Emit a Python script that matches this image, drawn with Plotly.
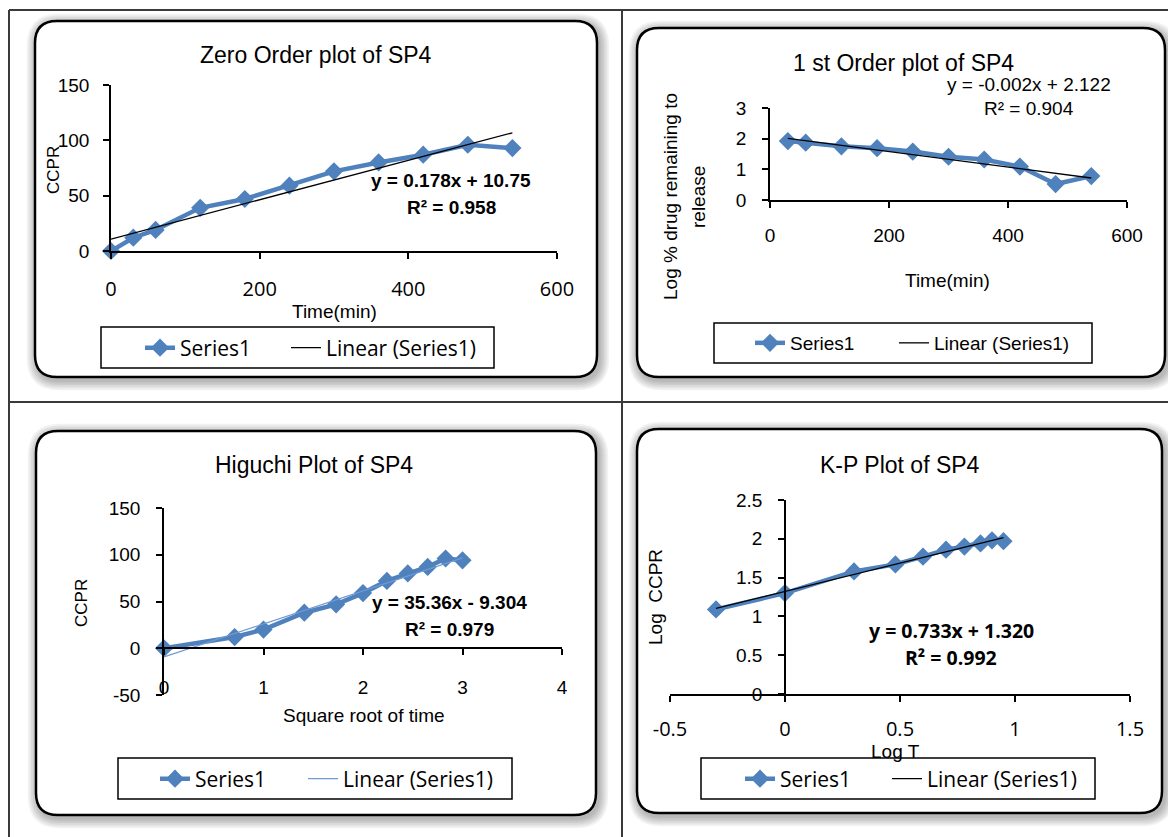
import numpy as np
import plotly.graph_objects as go

W, H = 1168, 837

# ---------------- data ----------------
time_min = [0, 30, 60, 120, 180, 240, 300, 360, 420, 480, 540]
ccpr = [0, 12, 19, 39, 47, 59, 72, 80, 87, 96, 93]

first_order_time = [30, 60, 120, 180, 240, 300, 360, 420, 480, 540]
log_remaining = [1.92, 1.87, 1.75, 1.69, 1.58, 1.41, 1.32, 1.09, 0.52, 0.78]

sqrt_time = [0, 0.71, 1.0, 1.41, 1.73, 2.0, 2.24, 2.45, 2.65, 2.83, 3.0]
higuchi_ccpr = [0, 12, 20, 38, 47, 59, 72, 80, 87, 96, 94]

log_t = [-0.30, 0.0, 0.30, 0.48, 0.60, 0.70, 0.78, 0.85, 0.90, 0.95]
log_ccpr = [1.09, 1.30, 1.58, 1.67, 1.77, 1.86, 1.90, 1.94, 1.98, 1.97]

titles = ["Zero Order plot of SP4", "1 st Order plot of SP4",
          "Higuchi Plot of SP4", "K-P Plot of SP4"]
equations = ["y = 0.178x + 10.75", "y = -0.002x + 2.122",
             "y = 35.36x - 9.304", "y = 0.733x + 1.320"]
r_squared = ["R² = 0.958", "R² = 0.904", "R² = 0.979", "R² = 0.992"]

zero_xticks = [0, 200, 400, 600]
zero_yticks = [0, 50, 100, 150]
first_xticks = [0, 200, 400, 600]
first_yticks = [0, 1, 2, 3]
hig_xticks = [0, 1, 2, 3, 4]
hig_yticks = [-50, 0, 50, 100, 150]
hig_yticktext = ["-50", "0", "50", "100", "150"]
kp_xticks = [-0.5, 0, 0.5, 1, 1.5]
kp_xticktext = ["-0.5", "0", "0.5", "1", "1.5"]
kp_yticks = [0, 0.5, 1, 1.5, 2, 2.5]
kp_yticktext = ["0", "0.5", "1", "1.5", "2", "2.5"]

# ---------------- styles ----------------
BLUE = "#4F81BD"
LIGHTBLUE = "#6F9AD3"
ARIAL = "Liberation Sans, Arial, sans-serif"
CALI = "Open Sans, Lato, sans-serif"


def X(v):
    return v / W


def Y(v):
    return 1 - v / H


def rrect(x0, y0, x1, y1, r):
    return (f"M {X(x0 + r)} {Y(y0)} L {X(x1 - r)} {Y(y0)} "
            f"Q {X(x1)} {Y(y0)} {X(x1)} {Y(y0 + r)} "
            f"L {X(x1)} {Y(y1 - r)} Q {X(x1)} {Y(y1)} {X(x1 - r)} {Y(y1)} "
            f"L {X(x0 + r)} {Y(y1)} Q {X(x0)} {Y(y1)} {X(x0)} {Y(y1 - r)} "
            f"L {X(x0)} {Y(y0 + r)} Q {X(x0)} {Y(y0)} {X(x0 + r)} {Y(y0)} Z")


fig = go.Figure()

series = [
    (time_min, ccpr, "x", "y", "black", "legend", "legend2"),
    (first_order_time, log_remaining, "x2", "y2", "black", "legend3", "legend4"),
    (sqrt_time, higuchi_ccpr, "x3", "y3", LIGHTBLUE, "legend5", "legend6"),
    (log_t, log_ccpr, "x4", "y4", "black", "legend7", "legend8"),
]

for xs, ys, xa, ya, tcol, lg1, lg2 in series:
    fig.add_trace(go.Scatter(
        x=xs, y=ys, mode="lines+markers", name="Series1",
        line=dict(color=BLUE, width=4.5),
        marker=dict(symbol="diamond", size=14, color=BLUE),
        xaxis=xa, yaxis=ya, legend=lg1, cliponaxis=False, hoverinfo="skip"))
    coef = np.polyfit(xs, ys, 1)
    ends = [min(xs), max(xs)]
    fig.add_trace(go.Scatter(
        x=ends, y=np.polyval(coef, ends), mode="lines", name="Linear (Series1)",
        line=dict(color=tcol, width=1.3),
        xaxis=xa, yaxis=ya, legend=lg2, cliponaxis=False, hoverinfo="skip"))

# ---------------- shapes ----------------
shapes = []
boxes = [(35, 21, 597, 377), (637, 28, 1165, 377),
         (36, 431, 596, 815), (637, 429, 1162, 813)]
for (x0, y0, x1, y1) in boxes:
    for k in range(6, 0, -1):
        e = k * 1.7
        shapes.append(dict(type="path", xref="paper", yref="paper", layer="below",
                           path=rrect(x0 - e + 2, y0 - e + 3, x1 + e + 2, y1 + e + 3, 22 + e),
                           fillcolor="rgba(0,0,0,0.05)", line=dict(width=0)))
    shapes.append(dict(type="path", xref="paper", yref="paper", layer="below",
                       path=rrect(x0, y0, x1, y1, 22), fillcolor="white",
                       line=dict(color="black", width=2.5)))

legend_boxes = [(101, 327, 494, 368), (714, 323, 1092, 363),
                (118, 758, 512, 799), (701, 758, 1095, 799)]
for (x0, y0, x1, y1) in legend_boxes:
    shapes.append(dict(type="rect", xref="paper", yref="paper", layer="below",
                       x0=X(x0), x1=X(x1), y0=Y(y0), y1=Y(y1),
                       fillcolor="white", line=dict(color="black", width=1.5)))

# table grid
for (x0, y0, x1, y1) in [(9, 10, 1168, 10), (9, 10, 9, 837), (622, 10, 622, 837), (9, 402, 1168, 402)]:
    shapes.append(dict(type="line", xref="paper", yref="paper", layer="below",
                       x0=X(x0), x1=X(x1), y0=Y(y0), y1=Y(y1),
                       line=dict(color="#3a3a3a", width=2)))

# ---------------- annotations ----------------
ann = []


def text(s, x, y, size=19, family=ARIAL, bold=False, angle=0):
    ann.append(dict(text=s, x=X(x), y=Y(y), xref="paper", yref="paper",
                    xanchor="center", yanchor="middle", showarrow=False,
                    textangle=angle,
                    font=dict(family=family, size=size, color="black",
                              weight="bold" if bold else "normal")))


text(titles[0], 316, 55, 23)
text(titles[1], 903, 63, 23)
text(titles[2], 314, 465, 23)
text(titles[3], 900, 465, 23)

text(equations[0], 451, 180, 19, bold=True)
text(r_squared[0], 451, 207, 19, bold=True)
text(equations[1], 1029, 84, 19)
text(r_squared[1], 1029, 109, 19)
text(equations[2], 449, 602, 19, bold=True)
text(r_squared[2], 449, 629, 19, bold=True)
text(equations[3], 951, 630, 19.5, family=CALI, bold=True)
text(r_squared[3], 951, 657, 19.5, family=CALI, bold=True)

text("Time(min)", 334, 312, 19)
text("CCPR", 53, 170, 17, angle=-90)
text("Time(min)", 947, 280, 19)
text("Log % drug remaining to", 671, 197, 19, angle=-90)
text("release", 699, 197, 19, angle=-90)
text("Square root of time", 364, 715, 19)
text("CCPR", 81, 603, 17, angle=-90)
text("Log T", 895, 751, 19)
text("Log  CCPR", 655, 597, 19, angle=-90)

# ---------------- axes ----------------
common = dict(showline=True, linecolor="black", linewidth=1.5, ticks="outside",
              ticklen=6, tickwidth=1.5, tickcolor="black", showgrid=False,
              zeroline=False, fixedrange=True)


def fnt(fam, size=19):
    return dict(family=fam, size=size, color="black")


layout_axes = dict(
    xaxis=dict(common, domain=[X(111), X(557)], range=[0, 600], anchor="y",
               tickvals=zero_xticks, tickfont=fnt(CALI, 20), ticklabelstandoff=13),
    yaxis=dict(common, domain=[Y(251), Y(85)], range=[0, 150], anchor="x",
               tickvals=zero_yticks, tickfont=fnt(ARIAL), ticklabelstandoff=10),
    xaxis2=dict(common, domain=[X(770), X(1127)], range=[0, 600], anchor="y2",
                tickvals=first_xticks, tickfont=fnt(ARIAL), ticklabelstandoff=11),
    yaxis2=dict(common, domain=[Y(200), Y(108)], range=[0, 3], anchor="x2",
                tickvals=first_yticks, tickfont=fnt(ARIAL), ticklabelstandoff=12),
    xaxis3=dict(common, domain=[X(164), X(562)], range=[0, 4], anchor="free",
                position=Y(648), tickvals=hig_xticks, tickfont=fnt(ARIAL),
                ticklabelstandoff=16),
    yaxis3=dict(common, domain=[Y(695), Y(508)], range=[-50, 150], anchor="x3",
                tickvals=hig_yticks, ticktext=hig_yticktext, tickfont=fnt(ARIAL),
                ticklabelstandoff=12),
    xaxis4=dict(common, domain=[X(670), X(1130)], range=[-0.5, 1.5], anchor="y4",
                tickvals=kp_xticks, ticktext=kp_xticktext, tickfont=fnt(CALI, 20),
                ticklabelstandoff=10),
    yaxis4=dict(common, domain=[Y(694), Y(500)], range=[0, 2.5], anchor="free",
                position=X(785), tickvals=kp_yticks, ticktext=kp_yticktext,
                tickfont=fnt(ARIAL), ticklabelstandoff=12),
)

# ---------------- legends (one per entry) ----------------
legend_spots = [
    ("legend", 181, 348, CALI, 21), ("legend2", 327, 348, CALI, 21),
    ("legend3", 791, 343, ARIAL, 19), ("legend4", 935, 343, ARIAL, 19),
    ("legend5", 196, 779, CALI, 21), ("legend6", 344, 779, CALI, 21),
    ("legend7", 781, 779, CALI, 21), ("legend8", 928, 779, CALI, 21),
]
legends = {}
for name, tx, ty, fam, sz in legend_spots:
    legends[name] = dict(x=X(tx - 41), y=Y(ty), xanchor="left", yanchor="middle",
                         orientation="h", bgcolor="rgba(0,0,0,0)", borderwidth=0,
                         font=fnt(fam, sz))

fig.update_layout(
    width=W, height=H, margin=dict(l=0, r=0, t=0, b=0, autoexpand=False),
    paper_bgcolor="white", plot_bgcolor="rgba(0,0,0,0)",
    shapes=shapes, annotations=ann, showlegend=True, hovermode=False,
    **layout_axes, **legends,
)

fig.write_html("out.html")
